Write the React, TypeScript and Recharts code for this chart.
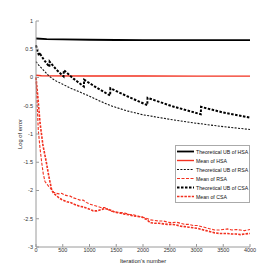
import React from "react";
import { LineChart, Line, XAxis, YAxis, Legend } from "recharts";

// ---- data ----
const xTicks = [0, 500, 1000, 1500, 2000, 2500, 3000, 3500, 4000];
const yTicks = [-3, -2.5, -2, -1.5, -1, -0.5, 0, 0.5, 1];

const hsaUbIter = [0, 200, 500, 1000, 1500, 2000, 3000, 4000];
const hsaUbVal = [0.69, 0.68, 0.675, 0.668, 0.664, 0.662, 0.66, 0.66];

const hsaMeanIter = [0, 100, 1000, 2000, 3000, 4000];
const hsaMeanVal = [0.04, 0.03, 0.027, 0.026, 0.025, 0.025];

const rsaUbIter = [0, 50, 100, 170, 250, 350, 500, 650, 800, 1000, 1200, 1400, 1700, 2000, 2500, 3000, 3500, 4000];
const rsaUbVal = [0.28, 0.22, 0.17, 0.1, 0.02, -0.05, -0.12, -0.19, -0.25, -0.33, -0.42, -0.5, -0.59, -0.66, -0.74, -0.81, -0.87, -0.92];

const csaUbIter = [0, 30, 60, 62, 150, 250, 255, 380, 515, 520, 700, 895, 900, 1150, 1385, 1390, 1700, 2080, 2085, 2550, 3080, 3085, 3500, 4000];
const csaUbVal = [0.57, 0.46, 0.38, 0.44, 0.31, 0.19, 0.28, 0.14, 0.02, 0.13, -0.02, -0.16, -0.04, -0.19, -0.32, -0.19, -0.33, -0.49, -0.36, -0.51, -0.65, -0.52, -0.62, -0.71];

const rsaMeanIter = [0, 20, 43, 75, 106, 135, 168, 200, 240, 290, 330, 380, 430, 480, 530, 580, 640, 700, 760, 820, 880, 940, 1000, 1070, 1140, 1210, 1280, 1350, 1420, 1500, 1580, 1660, 1740, 1820, 1900, 1980, 2060, 2140, 2220, 2300, 2380, 2460, 2540, 2620, 2700, 2780, 2860, 2940, 3020, 3100, 3180, 3260, 3340, 3420, 3500, 3580, 3660, 3740, 3820, 3900, 4000];
const rsaMeanVal = [0, -0.45, -0.93, -1.25, -1.5, -1.7, -1.84, -1.88, -1.93, -1.98, -2.03, -2.05, -2.06, -2.05, -2.08, -2.09, -2.1, -2.13, -2.15, -2.17, -2.17, -2.21, -2.24, -2.26, -2.28, -2.3, -2.3, -2.34, -2.37, -2.38, -2.39, -2.4, -2.42, -2.43, -2.45, -2.47, -2.49, -2.52, -2.53, -2.54, -2.54, -2.56, -2.57, -2.56, -2.58, -2.6, -2.6, -2.62, -2.62, -2.64, -2.66, -2.68, -2.7, -2.7, -2.69, -2.68, -2.7, -2.69, -2.7, -2.71, -2.69];

const csaMeanIter = [0, 35, 75, 130, 193, 240, 293, 330, 380, 430, 480, 530, 580, 640, 700, 760, 820, 880, 940, 1000, 1070, 1140, 1210, 1280, 1350, 1420, 1500, 1580, 1660, 1740, 1820, 1900, 1980, 2060, 2140, 2220, 2300, 2380, 2460, 2540, 2620, 2700, 2780, 2860, 2940, 3020, 3100, 3180, 3260, 3340, 3420, 3500, 3580, 3660, 3740, 3820, 3900, 4000];
const csaMeanVal = [0, -0.35, -0.8, -1.2, -1.5, -1.75, -1.99, -2.05, -2.09, -2.13, -2.16, -2.18, -2.2, -2.21, -2.24, -2.26, -2.28, -2.29, -2.31, -2.33, -2.36, -2.36, -2.34, -2.32, -2.33, -2.36, -2.39, -2.4, -2.42, -2.43, -2.45, -2.46, -2.47, -2.51, -2.57, -2.58, -2.58, -2.59, -2.6, -2.6, -2.61, -2.63, -2.64, -2.65, -2.66, -2.67, -2.69, -2.71, -2.73, -2.75, -2.76, -2.76, -2.76, -2.77, -2.77, -2.78, -2.77, -2.76];

const seriesNames = [
  "Theoretical UB of HSA",
  "Mean of HSA",
  "Theoretical UB of RSA",
  "Mean of RSA",
  "Theoretical UB of CSA",
  "Mean of CSA",
];

const toData = (xs: number[], ys: number[]) => xs.map((x, i) => ({ x, y: ys[i] }));

const RED = "#f2301f";
const FONT = "'Liberation Sans', Arial, sans-serif";
const AXIS = "#9a9a9a";

const styles = [
  { stroke: "#000", width: 1.8, dash: undefined as string | undefined },
  { stroke: RED, width: 1.4, dash: undefined },
  { stroke: "#111", width: 1.1, dash: "2 1.4" },
  { stroke: RED, width: 1.1, dash: "3 1.5" },
  { stroke: "#000", width: 2, dash: "2.5 1.5" },
  { stroke: RED, width: 1.6, dash: "2.5 1.2" },
];

const datasets = [
  toData(hsaUbIter, hsaUbVal),
  toData(hsaMeanIter, hsaMeanVal),
  toData(rsaUbIter, rsaUbVal),
  toData(rsaMeanIter, rsaMeanVal),
  toData(csaUbIter, csaUbVal),
  toData(csaMeanIter, csaMeanVal),
];

const renderLegend = () => (
  <svg width={75} height={58} style={{ display: "block" }}>
    <rect x={0.5} y={0.5} width={74} height={57} fill="#fff" stroke="#aaa" strokeWidth={1} />
    {seriesNames.map((name, i) => {
      const y = 6.5 + i * 9;
      const s = styles[i];
      return (
        <g key={name}>
          <line x1={2} x2={19} y1={y} y2={y} stroke={s.stroke} strokeWidth={s.width} strokeDasharray={s.dash} />
          <text x={21} y={y + 2} fontSize={5.2} fontFamily={FONT} fill="#111">
            {name}
          </text>
        </g>
      );
    })}
  </svg>
);

const tickStyle = { fontSize: 5.5, fill: "#333", fontFamily: FONT };

export default function App() {
  return (
    <div style={{ position: "absolute", left: 0, top: 0, width: 277, height: 277, background: "#fff" }}>
      <LineChart width={277} height={277} margin={{ top: 21, right: 27, left: 16, bottom: 10 }}>
        <XAxis
          xAxisId="b"
          dataKey="x"
          type="number"
          domain={[0, 4000]}
          ticks={xTicks}
          interval={0}
          height={20}
          stroke={AXIS}
          tickSize={-3}
          tickMargin={4.5}
          tick={tickStyle}
          allowDuplicatedCategory={false}
          label={{ value: "Iteration's number", position: "insideBottom", offset: 4.5, style: { fontSize: 5.8, fill: "#222", fontFamily: FONT } }}
        />
        <XAxis
          xAxisId="t"
          orientation="top"
          dataKey="x"
          type="number"
          domain={[0, 4000]}
          ticks={xTicks}
          interval={0}
          height={0}
          stroke={AXIS}
          tickSize={-3}
          tickFormatter={() => ""}
        />
        <YAxis
          yAxisId="l"
          type="number"
          domain={[-3, 1]}
          ticks={yTicks}
          interval={0}
          width={20}
          stroke={AXIS}
          tickSize={-3}
          tickMargin={6}
          tick={tickStyle}
          label={{ value: "Log of error", angle: -90, position: "insideLeft", offset: 4, style: { textAnchor: "middle", fontSize: 5.8, fill: "#222", fontFamily: FONT } }}
        />
        <YAxis
          yAxisId="r"
          orientation="right"
          type="number"
          domain={[-3, 1]}
          ticks={yTicks}
          interval={0}
          width={0}
          stroke={AXIS}
          tickSize={-3}
          tickFormatter={() => ""}
        />
        {datasets.map((d, i) => (
          <Line
            key={seriesNames[i]}
            xAxisId="b"
            yAxisId="l"
            data={d}
            dataKey="y"
            name={seriesNames[i]}
            type="linear"
            stroke={styles[i].stroke}
            strokeWidth={styles[i].width}
            strokeDasharray={styles[i].dash}
            dot={false}
            activeDot={false}
            isAnimationActive={false}
          />
        ))}
        <Legend
          layout="vertical"
          align="center"
          verticalAlign="middle"
          content={renderLegend}
          wrapperStyle={{ position: "absolute", left: 175, top: 145, width: 75, height: 58 }}
        />
      </LineChart>
    </div>
  );
}
